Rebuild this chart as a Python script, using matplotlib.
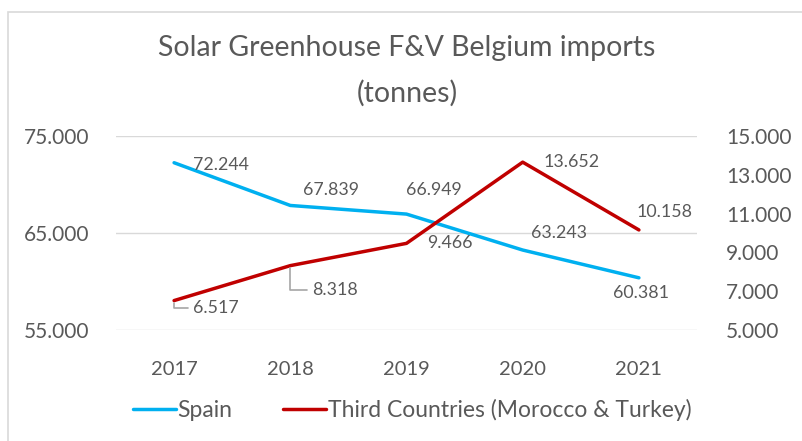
# -*- coding: utf-8 -*-
"""Solar Greenhouse F&V Belgium imports (tonnes): Spain vs third countries."""

import matplotlib.pyplot as plt
from matplotlib.patches import Rectangle

# Datos
years = ['2017', '2018', '2019', '2020', '2021']
spain = [72244, 67839, 66949, 63243, 60381]
third = [6517, 8318, 9466, 13652, 10158]

left_ticks = [55000, 65000, 75000]
right_ticks = [5000, 7000, 9000, 11000, 13000, 15000]

gray = '#595959'
blue = '#00B0F0'
red = '#C00000'
plt.rcParams['font.family'] = ['Lato', 'DejaVu Sans']


def fmt(v):
    return f'{v:,.0f}'.replace(',', '.')


fig = plt.figure(figsize=(8.02, 4.41), dpi=100)
# marco del gráfico
fig.patches.append(Rectangle((8 / 802, -0.5), 2, 1.5 - 12 / 441, transform=fig.transFigure,
                             fill=False, edgecolor='#D9D9D9', linewidth=1.2))

ax = fig.add_axes([116 / 802, 1 - 330 / 441, 581 / 802, 194 / 441])
ax2 = ax.twinx()
x = range(len(years))

l1, = ax.plot(x, spain, color=blue, linewidth=2.5, solid_capstyle='round', label='Spain')
l2, = ax2.plot(x, third, color=red, linewidth=2.5, solid_capstyle='round',
               label='Third Countries (Morocco & Turkey)')

ax.set_xlim(-0.5, 4.5)
ax.set_ylim(55000, 75000)
ax.set_yticks(left_ticks)
ax.set_yticklabels([fmt(v) for v in left_ticks])
ax2.set_ylim(5000, 15000)
ax2.set_yticks(right_ticks)
ax2.set_yticklabels([fmt(v) for v in right_ticks])
ax.set_xticks(list(x))
ax.set_xticklabels(years)

ax.grid(axis='y', color='#D9D9D9', linewidth=1)
ax.set_axisbelow(True)
for a in (ax, ax2):
    for s in a.spines.values():
        s.set_visible(False)
    a.tick_params(length=0, colors=gray, labelsize=15)
ax.tick_params(axis='x', labelsize=14.5, pad=22)
ax.tick_params(axis='y', pad=19)
ax2.tick_params(axis='y', pad=21)

# Etiquetas de datos (desplazamientos en píxeles)
spain_off = [(19, -2, 'left'), (13, 15, 'left'), (27, 24, 'center'),
             (36, 17, 'center'), (2, -15, 'center')]
for i, v in enumerate(spain):
    dx, dy, ha = spain_off[i]
    ax.annotate(fmt(v), (i, v), xytext=(dx, dy), textcoords='offset pixels',
                ha=ha, va='center', color=gray, fontsize=12.8)

third_off = [(19, -7), (22, -24), (21, 0), (21, 0), (-2, 18)]
for i, v in enumerate(third):
    dx, dy = third_off[i]
    arrow = None
    if i < 2:
        arrow = dict(arrowstyle='-', color='#A6A6A6', linewidth=1.2,
                     connectionstyle='angle,angleA=0,angleB=90,rad=0',
                     relpos=(0, 0.5), shrinkA=2, shrinkB=2)
    ax2.annotate(fmt(v), (i, v), xytext=(dx, dy), textcoords='offset pixels',
                 ha='left', va='center', color=gray, fontsize=12.8, arrowprops=arrow)

fig.text(407 / 802, 1 - 48 / 441, 'Solar Greenhouse F&V Belgium imports', ha='center',
         va='center', color=gray, fontsize=20.5)
fig.text(407 / 802, 1 - 93 / 441, '(tonnes)', ha='center', va='center', color=gray,
         fontsize=20.5)

fig.legend(handles=[l1, l2], loc='center', bbox_to_anchor=(412 / 802, 1 - 410 / 441),
           ncol=2, frameon=False, fontsize=16.5, labelcolor=gray,
           handlelength=1.9, handletextpad=0.05, columnspacing=2.2)

fig.savefig('out.png', dpi=100)
